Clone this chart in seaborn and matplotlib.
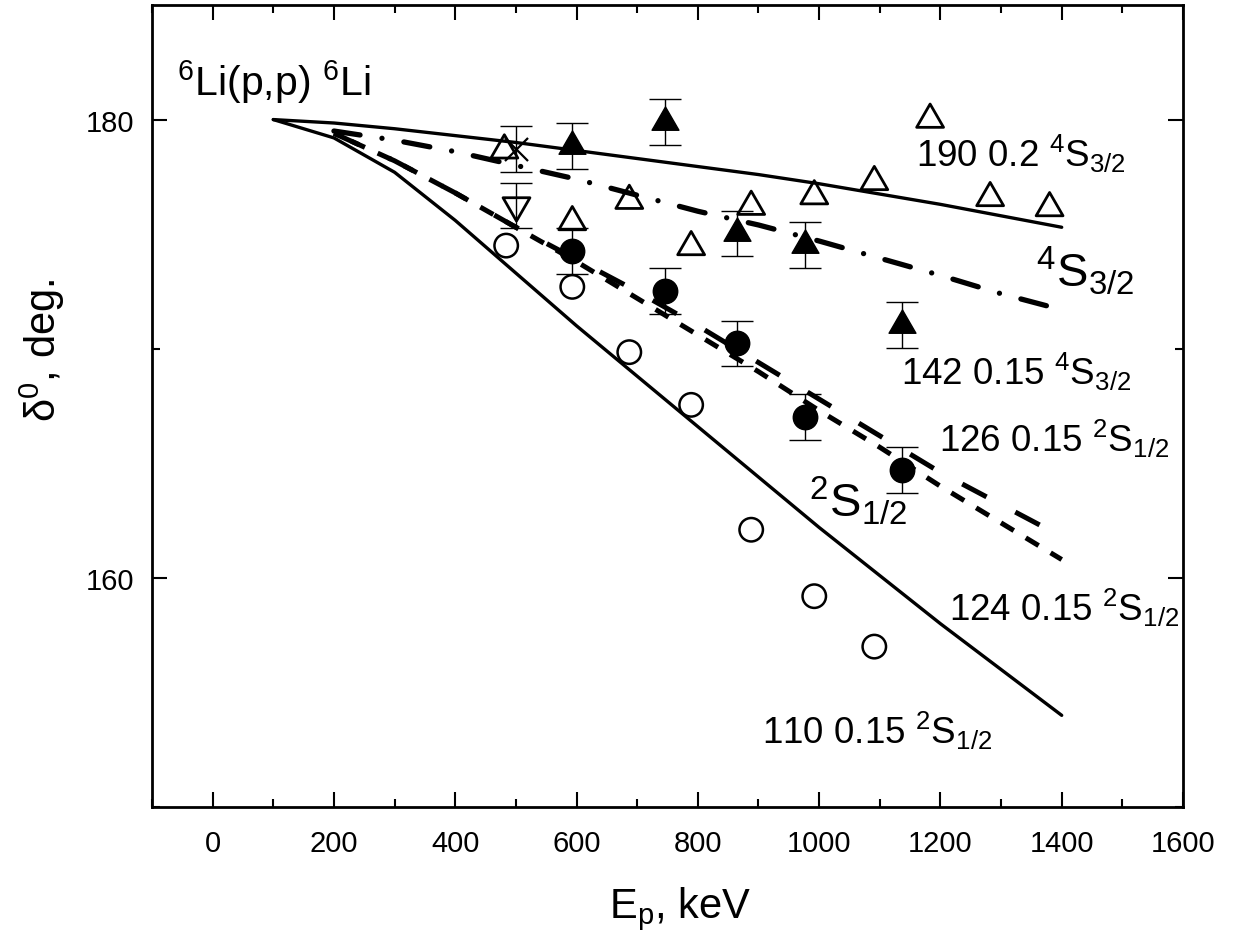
import numpy as np
import matplotlib
matplotlib.use("Agg")
import matplotlib.pyplot as plt
import seaborn as sns
from matplotlib.path import Path
from matplotlib.markers import MarkerStyle
from matplotlib.ticker import MultipleLocator

# ---------------- data ----------------
# calculated curves
E_190 = [100, 200, 300, 400, 500, 600, 700, 800, 900, 1000, 1100, 1200, 1300, 1400]
d_190 = [180.0, 179.85, 179.6, 179.3, 179.0, 178.65, 178.3, 177.95, 177.6, 177.2, 176.75, 176.3, 175.8, 175.3]

E_142 = [200, 300, 400, 500, 600, 700, 800, 900, 1000, 1100, 1200, 1300, 1400]
d_142 = [179.5, 179.1, 178.6, 178.0, 177.4, 176.7, 176.0, 175.4, 174.7, 173.95, 173.2, 172.4, 171.7]

E_126 = [200, 300, 400, 500, 600, 700, 800, 900, 1000, 1100, 1200, 1300, 1400]
d_126 = [179.4, 178.2, 176.8, 175.3, 173.9, 172.5, 171.0, 169.4, 167.8, 166.2, 164.6, 163.2, 161.8]

E_124 = [200, 300, 400, 500, 600, 700, 800, 900, 1000, 1100, 1200, 1300, 1400]
d_124 = [179.4, 178.2, 176.8, 175.3, 173.8, 172.2, 170.6, 169.0, 167.3, 165.7, 164.0, 162.4, 160.8]

E_110 = [100, 200, 300, 400, 500, 600, 700, 800, 900, 1000, 1100, 1200, 1300, 1400]
d_110 = [180.0, 179.2, 177.7, 175.6, 173.3, 171.0, 168.8, 166.6, 164.4, 162.2, 160.1, 158.0, 156.0, 154.0]

# experimental phase shifts
E_open_tri = [481, 593, 687, 789, 888, 992, 1091, 1183, 1282, 1380]
d_open_tri = [178.66, 175.53, 176.46, 174.44, 176.2, 176.66, 177.28, 180.0, 176.58, 176.14]

E_full_tri = [593, 746, 865, 977, 1137]
d_full_tri = [178.86, 179.9, 175.03, 174.53, 171.03]
e_full_tri = [1.0, 1.0, 1.0, 1.0, 1.0]

E_full_circ = [593, 746, 865, 977, 1137]
d_full_circ = [174.25, 172.52, 170.23, 167.03, 164.7]
e_full_circ = [1.0, 1.0, 1.0, 1.0, 1.0]

E_open_circ = [484, 593, 687, 789, 888, 992, 1091]
d_open_circ = [174.5, 172.7, 169.85, 167.55, 162.1, 159.2, 157.0]

E_down_tri = [501]
d_down_tri = [176.25]
e_down_tri = [1.0]

E_cross = [501]
d_cross = [178.72]
e_cross = [1.0]

x_ticks = [0, 200, 400, 600, 800, 1000, 1200, 1400, 1600]
y_ticks = [160, 180]

# ---------------- style ----------------
sns.set_theme(style="ticks")
plt.rcParams["font.family"] = ["Liberation Sans", "DejaVu Sans"]
plt.rcParams["mathtext.default"] = "regular"
for k in ["text.color", "axes.labelcolor", "xtick.color", "ytick.color",
          "xtick.labelcolor", "ytick.labelcolor", "axes.edgecolor"]:
    plt.rcParams[k] = "black"

fig = plt.figure(figsize=(12.36, 9.37), dpi=100)
W, H = 1236, 937
ax = fig.add_axes([152 / W, 1 - 808 / H, (1183 - 152) / W, (808 - 6) / H])
ax.set_facecolor("white")
fig.patch.set_facecolor("white")

# curves
sns.lineplot(x=E_190, y=d_190, ax=ax, color="black", linewidth=2.4,
             sort=False, estimator=None, zorder=2)
sns.lineplot(x=E_142, y=d_142, ax=ax, color="black", linewidth=3.8,
             linestyle=(0, (5.0, 4.2, 0.01, 4.2)), dash_capstyle="round",
             sort=False, estimator=None, zorder=2)
sns.lineplot(x=E_126, y=d_126, ax=ax, color="black", linewidth=3.6,
             linestyle=(0, (5.5, 6.5)), sort=False, estimator=None, zorder=2)
sns.lineplot(x=E_124, y=d_124, ax=ax, color="black", linewidth=3.6,
             linestyle=(2, (3.0, 2.8)), sort=False, estimator=None, zorder=2)
sns.lineplot(x=E_110, y=d_110, ax=ax, color="black", linewidth=2.4,
             sort=False, estimator=None, zorder=2)

# marker shapes (centroid-centred triangles)
r3 = np.sqrt(3)
up_tri = MarkerStyle(Path([(0, 2 / r3), (-1, -1 / r3), (1, -1 / r3), (0, 2 / r3)],
                          [Path.MOVETO, Path.LINETO, Path.LINETO, Path.CLOSEPOLY]))
dn_tri = MarkerStyle(Path([(0, -2 / r3), (-1, 1 / r3), (1, 1 / r3), (0, -2 / r3)],
                          [Path.MOVETO, Path.LINETO, Path.LINETO, Path.CLOSEPOLY]))

# error bars
for E, d, e in [(E_full_tri, d_full_tri, e_full_tri),
                (E_full_circ, d_full_circ, e_full_circ),
                (E_down_tri, d_down_tri, e_down_tri),
                (E_cross, d_cross, e_cross)]:
    ax.errorbar(E, d, yerr=e, fmt="none", ecolor="black", elinewidth=1.0,
                capsize=11.5, capthick=1.0, zorder=3)


def scat(E, d, marker, s, filled, lw):
    sns.scatterplot(x=E, y=d, ax=ax, marker=marker, s=s, color="black",
                    edgecolor="black", linewidth=lw, zorder=4)
    coll = ax.collections[-1]
    if not filled:
        coll.set_facecolor("none")
    coll.set_edgecolor("black")


scat(E_open_tri, d_open_tri, up_tri, 500, False, 2.0)
scat(E_full_tri, d_full_tri, up_tri, 500, True, 1.0)
scat(E_full_circ, d_full_circ, "o", 310, True, 1.0)
scat(E_open_circ, d_open_circ, "o", 285, False, 1.8)
scat(E_down_tri, d_down_tri, dn_tri, 500, False, 2.0)
scat(E_cross, d_cross, "x", 275, True, 1.6)

# axes
ax.set_xlim(-100, 1600)
ax.set_ylim(150, 185)
ax.set_xticks(x_ticks)
ax.set_xticklabels([str(t) for t in x_ticks])
ax.xaxis.set_minor_locator(MultipleLocator(100))
ax.set_yticks(y_ticks)
ax.set_yticklabels([str(t) for t in y_ticks])
ax.yaxis.set_minor_locator(MultipleLocator(10))
ax.tick_params(which="both", direction="in", top=True, right=True, color="black",
               width=1.5)
ax.tick_params(which="major", length=11)
ax.tick_params(which="minor", length=6)
ax.tick_params(axis="x", which="major", labelsize=21, pad=15.5)
ax.tick_params(axis="y", which="major", labelsize=21, pad=13)
for sp in ax.spines.values():
    sp.set_visible(True)
    sp.set_linewidth(2.0)
    sp.set_color("black")

ax.set_xlabel("E$_p$, keV", fontsize=30, va="baseline", ha="center")
ax.xaxis.set_label_coords(0.512, -0.137)
ax.set_ylabel("δ$^0$, deg.", fontsize=30, va="center", ha="center")
ax.yaxis.set_label_coords(-0.106, 0.571)

# annotations
ax.text(-59, 181.07, "$^{6}$Li(p,p) $^{6}$Li", fontsize=29.5, ha="left", va="baseline")
ax.text(1160, 177.97, "190 0.2 $^{4}$S$_{3/2}$", fontsize=26.5, ha="left", va="baseline")
ax.text(1357, 172.74, "$^{4}$S$_{3/2}$", fontsize=34, ha="left", va="baseline")
ax.text(1135, 168.47, "142 0.15 $^{4}$S$_{3/2}$", fontsize=26.5, ha="left", va="baseline")
ax.text(1197, 165.54, "126 0.15 $^{2}$S$_{1/2}$", fontsize=26.5, ha="left", va="baseline")
ax.text(983, 162.71, "$^{2}$S$_{1/2}$", fontsize=34, ha="left", va="baseline")
ax.text(1214, 158.18, "124 0.15 $^{2}$S$_{1/2}$", fontsize=26.5, ha="left", va="baseline")
ax.text(906, 152.81, "110 0.15 $^{2}$S$_{1/2}$", fontsize=26.5, ha="left", va="baseline")

fig.savefig("out.png", dpi=100, facecolor="white")
